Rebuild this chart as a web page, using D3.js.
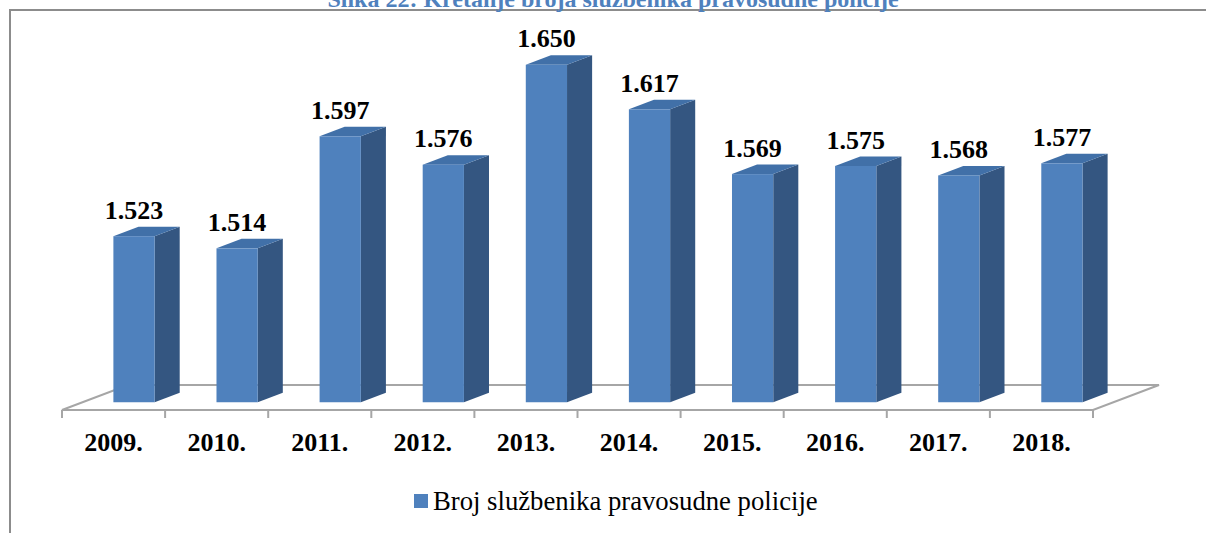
<!DOCTYPE html>
<html>
<head>
<meta charset="utf-8">
<script src="https://cdn.jsdelivr.net/npm/d3@7"></script>
<style>
  body { margin: 0; background: #fff; }
  svg { display: block; }
  text { font-family: "Liberation Serif", "Times New Roman", serif; }
</style>
</head>
<body>
<svg width="1206" height="533"></svg>
<script>
// data
var years = ["2009.", "2010.", "2011.", "2012.", "2013.", "2014.", "2015.", "2016.", "2017.", "2018."];
var officers = [1523, 1514, 1597, 1576, 1650, 1617, 1569, 1575, 1568, 1577];
var valueLabels = ["1.523", "1.514", "1.597", "1.576", "1.650", "1.617", "1.569", "1.575", "1.568", "1.577"];
var seriesName = "Broj službenika pravosudne policije";
var chartTitle = "Slika 22: Kretanje broja službenika pravosudne policije";

var svg = d3.select("svg");

var floorLeft = 62, floorRight = 1093, floorY = 410;
var depthX = 66, depthY = -25;        // floor depth (oblique)
var f1 = 0.31, f2 = 0.69;             // bar front / back position inside the floor depth

var x = d3.scaleBand()
    .domain(years)
    .range([floorLeft, floorRight])
    .paddingInner(0.6)
    .paddingOuter(0.3);

var y = d3.scaleLinear()
    .domain([1400, 1700])
    .range([floorY, floorY - 405]);

// chart frame
svg.append("path")
    .attr("d", "M10,533 L10,10 L1206,10")
    .attr("fill", "none")
    .attr("stroke", "#8c8c8c")
    .attr("stroke-width", 2);

// title (the source picture cuts it at the top edge)
svg.append("text")
    .attr("x", 613)
    .attr("y", 7)
    .attr("text-anchor", "middle")
    .attr("font-size", 24)
    .attr("font-weight", "bold")
    .attr("fill", "#4f81bd")
    .text(chartTitle);

// floor
var floor = svg.append("g").attr("class", "floor");
floor.append("path")
    .attr("d", "M" + floorLeft + "," + floorY +
        " L" + (floorLeft + depthX) + "," + (floorY + depthY) +
        " L" + (floorRight + depthX) + "," + (floorY + depthY) +
        " L" + floorRight + "," + floorY + " Z")
    .attr("fill", "#fff")
    .attr("stroke", "#a6a6a6")
    .attr("stroke-width", 2);

var ticks = years.map(function (d) { return x(d) - x.step() * x.paddingInner() / 2; });
ticks.push(floorRight);
floor.selectAll("line.tick")
    .data(ticks)
    .enter().append("line")
    .attr("class", "tick")
    .attr("x1", function (d) { return d; })
    .attr("x2", function (d) { return d; })
    .attr("y1", floorY)
    .attr("y2", floorY + 8)
    .attr("stroke", "#a6a6a6")
    .attr("stroke-width", 2);

// bars
var bw = x.bandwidth();
var dxF = f1 * depthX, dyF = f1 * depthY;
var dxB = (f2 - f1) * depthX, dyB = (f2 - f1) * depthY;

var bars = svg.selectAll("g.bar")
    .data(officers)
    .enter().append("g")
    .attr("class", "bar");

bars.each(function (v, i) {
    var g = d3.select(this);
    var x0 = x(years[i]) + dxF,
        x1 = x0 + bw,
        yb = y(y.domain()[0]) + dyF,
        yt = y(v) + dyF;
    // side
    g.append("path")
        .attr("d", "M" + x1 + "," + yb + " L" + (x1 + dxB) + "," + (yb + dyB) +
            " L" + (x1 + dxB) + "," + (yt + dyB) + " L" + x1 + "," + yt + " Z")
        .attr("fill", "#345681");
    // top
    g.append("path")
        .attr("d", "M" + x0 + "," + yt + " L" + x1 + "," + yt +
            " L" + (x1 + dxB) + "," + (yt + dyB) + " L" + (x0 + dxB) + "," + (yt + dyB) + " Z")
        .attr("fill", "#4170a8");
    // front
    g.append("rect")
        .attr("x", x0)
        .attr("y", yt)
        .attr("width", bw)
        .attr("height", yb - yt)
        .attr("fill", "#4f81bd");
    // value label
    g.append("text")
        .attr("x", x0 + bw / 2)
        .attr("y", yt - 17.5)
        .attr("text-anchor", "middle")
        .attr("font-size", 26)
        .attr("font-weight", "bold")
        .attr("fill", "#000")
        .text(valueLabels[i]);
});

// category labels
svg.selectAll("text.cat")
    .data(years)
    .enter().append("text")
    .attr("class", "cat")
    .attr("x", function (d) { return x(d) + bw / 2; })
    .attr("y", 450.5)
    .attr("text-anchor", "middle")
    .attr("font-size", 26)
    .attr("font-weight", "bold")
    .text(function (d) { return d; });

// legend
var legend = svg.append("g").attr("class", "legend");
legend.append("rect")
    .attr("x", 414)
    .attr("y", 494)
    .attr("width", 14)
    .attr("height", 14)
    .attr("fill", "#4f81bd");
legend.append("text")
    .attr("x", 433)
    .attr("y", 510)
    .attr("font-size", 26.7)
    .text(seriesName);
</script>
</body>
</html>
